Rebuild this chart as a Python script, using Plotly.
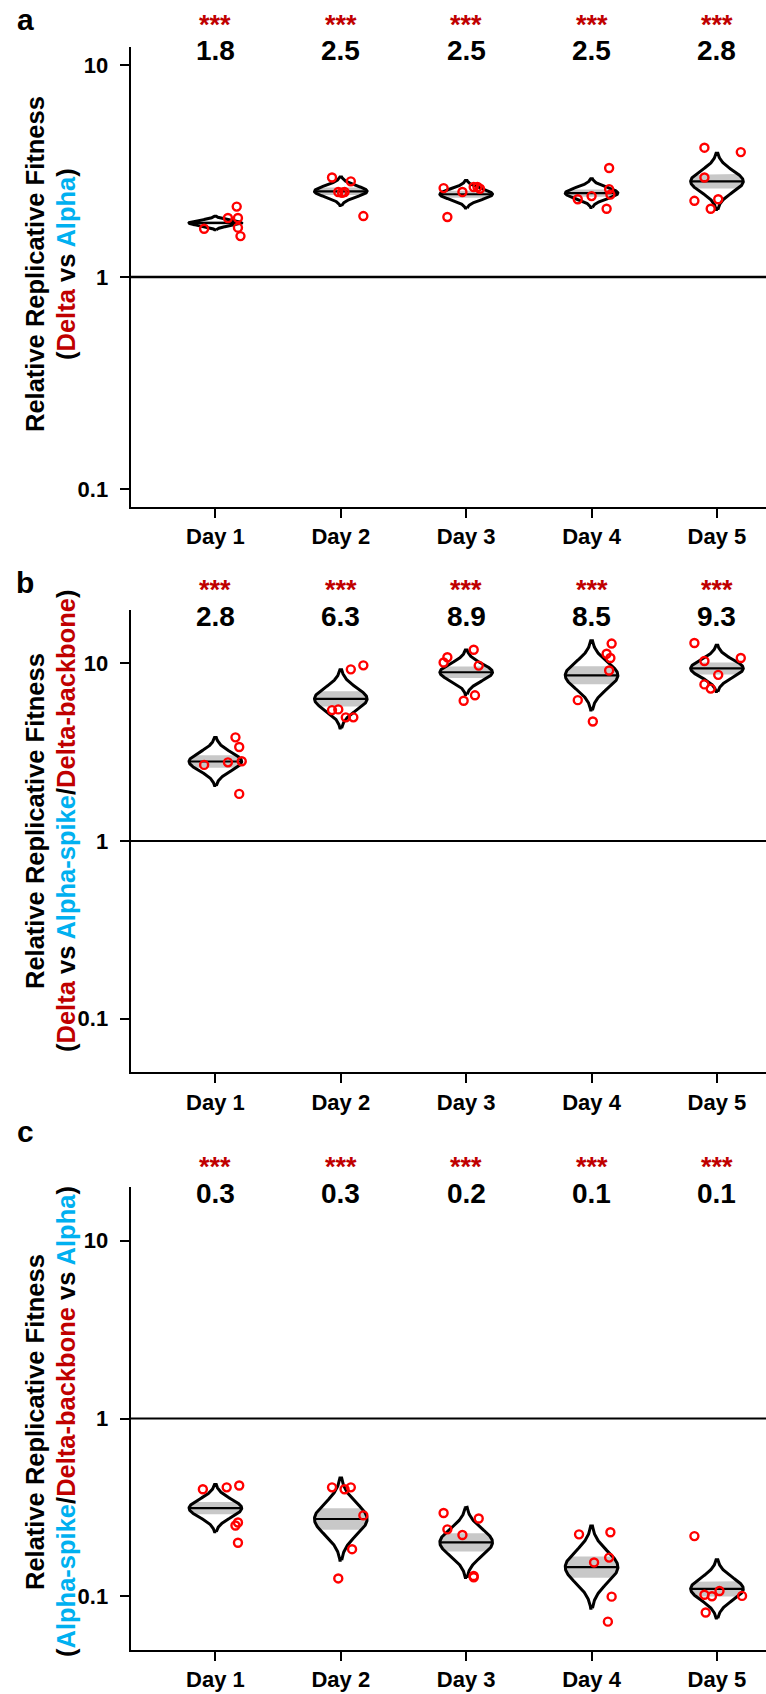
import numpy as np
import plotly.graph_objects as go

# ---------------- data ----------------
days = ["Day 1", "Day 2", "Day 3", "Day 4", "Day 5"]

# panel a : Delta vs Alpha
a_points = [
    [1.69, 1.90, 1.90, 2.15, 1.71, 1.56],
    [2.95, 2.83, 2.52, 2.52, 2.50, 1.94],
    [2.63, 1.92, 2.52, 2.66, 2.66, 2.61],
    [3.27, 2.60, 2.45, 2.33, 2.41, 2.10],
    [4.08, 3.89, 2.95, 2.29, 2.10, 2.33],
]
a_median = [1.80, 2.54, 2.46, 2.49, 2.83]
a_sd = [0.0124, 0.026, 0.025, 0.026, 0.051]      # log10 units
a_labels = ["1.8", "2.5", "2.5", "2.5", "2.8"]

# panel b : Delta vs Alpha-spike/Delta-backbone
b_points = [
    [3.83, 3.38, 2.81, 2.77, 2.68, 1.84],
    [9.24, 9.73, 5.45, 5.50, 4.96, 4.96],
    [10.1, 10.8, 11.9, 9.7, 6.15, 6.6],
    [12.9, 11.3, 10.7, 9.1, 6.2, 4.7],
    [13.0, 10.7, 10.3, 8.6, 7.6, 7.2],
]
b_median = [2.80, 6.30, 8.90, 8.55, 9.35]
b_sd = [0.052, 0.063, 0.048, 0.075, 0.050]
b_labels = ["2.8", "6.3", "8.9", "8.5", "9.3"]

# panel c : Alpha-spike/Delta-backbone vs Alpha
c_points = [
    [0.40, 0.41, 0.42, 0.26, 0.25, 0.20],
    [0.41, 0.41, 0.40, 0.285, 0.184, 0.126],
    [0.294, 0.238, 0.221, 0.274, 0.130, 0.128],
    [0.223, 0.229, 0.165, 0.155, 0.0995, 0.072],
    [0.218, 0.102, 0.100, 0.107, 0.1005, 0.081],
]
c_median = [0.313, 0.272, 0.201, 0.146, 0.110]
c_sd = [0.051, 0.089, 0.076, 0.089, 0.063]
c_labels = ["0.3", "0.3", "0.2", "0.1", "0.1"]

sig_labels = ["***", "***", "***", "***", "***"]

# horizontal jitter of the replicate points (category units)
a_jitter = [
    [-0.09, 0.10, 0.18, 0.17, 0.18, 0.20],
    [-0.07, 0.08, -0.02, 0.03, 0.01, 0.18],
    [-0.18, -0.15, -0.03, 0.06, 0.09, 0.11],
    [0.14, 0.14, 0.15, -0.11, 0.00, 0.12],
    [-0.10, 0.19, -0.10, -0.18, -0.05, 0.01],
]
b_jitter = [
    [0.16, 0.19, 0.21, 0.10, -0.09, 0.19],
    [0.08, 0.18, -0.07, -0.02, 0.04, 0.10],
    [-0.18, -0.15, 0.06, 0.10, -0.02, 0.07],
    [0.16, 0.12, 0.15, 0.14, -0.11, 0.01],
    [-0.18, 0.19, -0.10, 0.01, -0.10, -0.05],
]
c_jitter = [
    [-0.10, 0.09, 0.19, 0.18, 0.16, 0.18],
    [-0.07, 0.08, 0.03, 0.18, 0.09, -0.02],
    [-0.18, -0.15, -0.03, 0.10, 0.06, 0.06],
    [-0.10, 0.15, 0.14, 0.02, 0.16, 0.13],
    [-0.18, -0.10, -0.04, 0.02, 0.20, -0.09],
]

# ---------------- styling / layout ----------------
W, H = 766, 1694
FONT = "Liberation Sans, Arial, Helvetica, sans-serif"
RED_TXT = "#c00000"
BLUE_TXT = "#00b0f0"
STAR_COL = "#c00000"
PT_COL = "#ff0000"
BAND_COL = "#c8c8c8"


def py(px):
    return 1 - px / H


def px_x(px):
    return px / W


def red(s):
    return f"<span style='color:{RED_TXT}'>{s}</span>"


def blue(s):
    return f"<span style='color:{BLUE_TXT}'>{s}</span>"


panels = [
    dict(pts=a_points, jit=a_jitter, med=a_median, sd=a_sd, lab=a_labels,
         letter="a", top=46.6, bot=506.8, yrange=[-1.085, 1.088],
         star_y=22.7, num_y=51.0, letter_y=19.5, title_y=264, refw=2.6,
         title1="Relative Replicative Fitness",
         title2="(" + red("Delta") + " vs " + blue("Alpha") + ")"),
    dict(pts=b_points, jit=b_jitter, med=b_median, sd=b_sd, lab=b_labels,
         letter="b", top=609.9, bot=1072.1, yrange=[-1.3, 1.3],
         star_y=588, num_y=616.7, letter_y=583, title_y=821, refw=2.2,
         title1="Relative Replicative Fitness",
         title2="(" + red("Delta") + " vs " + blue("Alpha-spike") + "/" + red("Delta-backbone") + ")"),
    dict(pts=c_points, jit=c_jitter, med=c_median, sd=c_sd, lab=c_labels,
         letter="c", top=1187.4, bot=1649.6, yrange=[-1.3, 1.3],
         star_y=1165, num_y=1193, letter_y=1131, title_y=1422, refw=2.2,
         title1="Relative Replicative Fitness",
         title2="(" + blue("Alpha-spike") + "/" + red("Delta-backbone") + " vs " + blue("Alpha") + ")"),
]

HALF_W = 0.21
X_LEFT = 130.5
XRANGE = [-0.677, 4.391]

fig = go.Figure()
annotations = []
shapes = []
layout_axes = {}

for k, p in enumerate(panels):
    n = "" if k == 0 else str(k + 1)
    xa, ya = "x" + n, "y" + n
    for i in range(len(days)):
        m = np.log10(p["med"][i])
        s = p["sd"][i]
        # IQR band (filled)
        tb = np.linspace(-0.674 * s, 0.674 * s, 41)
        wb = HALF_W * np.exp(-tb ** 2 / (2 * s ** 2))
        fig.add_trace(go.Scatter(
            x=np.concatenate([i + wb, (i - wb)[::-1]]),
            y=10 ** np.concatenate([m + tb, (m + tb)[::-1]]),
            mode="lines", fill="toself", fillcolor=BAND_COL,
            line=dict(width=0), hoverinfo="skip", showlegend=False,
            xaxis=xa, yaxis=ya))
        # median line
        fig.add_trace(go.Scatter(
            x=[i - HALF_W, i + HALF_W], y=[p["med"][i], p["med"][i]],
            mode="lines", line=dict(color="black", width=2.2),
            hoverinfo="skip", showlegend=False, xaxis=xa, yaxis=ya))
        # outline
        t = np.linspace(-2.6 * s, 2.6 * s, 161)
        w = HALF_W * np.exp(-t ** 2 / (2 * s ** 2))
        fig.add_trace(go.Scatter(
            x=np.concatenate([i + w, (i - w)[::-1], [i + w[0]]]),
            y=10 ** np.concatenate([m + t, (m + t)[::-1], [m + t[0]]]),
            mode="lines", line=dict(color="black", width=3),
            hoverinfo="skip", showlegend=False, xaxis=xa, yaxis=ya))
        # replicate points
        fig.add_trace(go.Scatter(
            x=[i + j for j in p["jit"][i]], y=p["pts"][i],
            mode="markers",
            marker=dict(symbol="circle-open", size=8, color=PT_COL,
                        line=dict(color=PT_COL, width=2.4)),
            showlegend=False, xaxis=xa, yaxis=ya))
        # significance stars + fold-change numbers
        annotations.append(dict(
            x=i, y=py(p["star_y"] + 2), xref=xa, yref="paper",
            text=sig_labels[i], showarrow=False, xanchor="center", yanchor="middle",
            font=dict(family=FONT, size=27, color=STAR_COL, weight="bold")))
        annotations.append(dict(
            x=i, y=py(p["num_y"]), xref=xa, yref="paper",
            text=p["lab"][i], showarrow=False, xanchor="center", yanchor="middle",
            font=dict(family=FONT, size=28, color="black", weight="bold")))

    # reference line at 1
    shapes.append(dict(type="line", xref=xa + " domain", yref=ya, x0=0, x1=1, y0=1, y1=1,
                       line=dict(color="black", width=p["refw"])))

    # panel letter
    annotations.append(dict(
        x=px_x(25), y=py(p["letter_y"]), xref="paper", yref="paper", text=p["letter"],
        showarrow=False, xanchor="center", yanchor="middle",
        font=dict(family=FONT, size=30, color="black", weight="bold")))
    # y-axis title (two rotated lines)
    for xc, txt in ((35, p["title1"]), (66, p["title2"])):
        annotations.append(dict(
            x=px_x(xc), y=py(p["title_y"]), xref="paper", yref="paper", text=txt,
            showarrow=False, textangle=-90, xanchor="center", yanchor="middle",
            font=dict(family=FONT, size=25.5, color="black", weight="bold")))

    xkey = "xaxis" + n
    ykey = "yaxis" + n
    layout_axes[xkey] = dict(
        domain=[X_LEFT / W, 1], range=XRANGE, anchor=ya,
        tickmode="array", tickvals=list(range(len(days))), ticktext=days,
        ticks="outside", ticklen=9, tickwidth=2, tickcolor="black",
        showline=True, linecolor="black", linewidth=2.2, showgrid=False, zeroline=False,
        tickfont=dict(family=FONT, size=22, color="black", weight="bold"),
        ticklabelstandoff=0, fixedrange=True)
    layout_axes[ykey] = dict(
        domain=[py(p["bot"]), py(p["top"])], type="log", range=p["yrange"], anchor=xa,
        tickmode="array", tickvals=[0.1, 1, 10], ticktext=["0.1", "1", "10"],
        ticks="outside", ticklen=9, tickwidth=2, tickcolor="black",
        showline=True, linecolor="black", linewidth=1.8, showgrid=False, zeroline=False,
        tickfont=dict(family=FONT, size=22, color="black", weight="bold"),
        ticklabelstandoff=7, fixedrange=True)

fig.update_layout(
    width=W, height=H,
    margin=dict(l=0, r=0, t=0, b=0),
    paper_bgcolor="white", plot_bgcolor="white",
    showlegend=False,
    annotations=annotations, shapes=shapes,
    **layout_axes,
)

fig.write_html("out.html", config={"displayModeBar": False},
               post_script="document.body.style.margin='0px';")
